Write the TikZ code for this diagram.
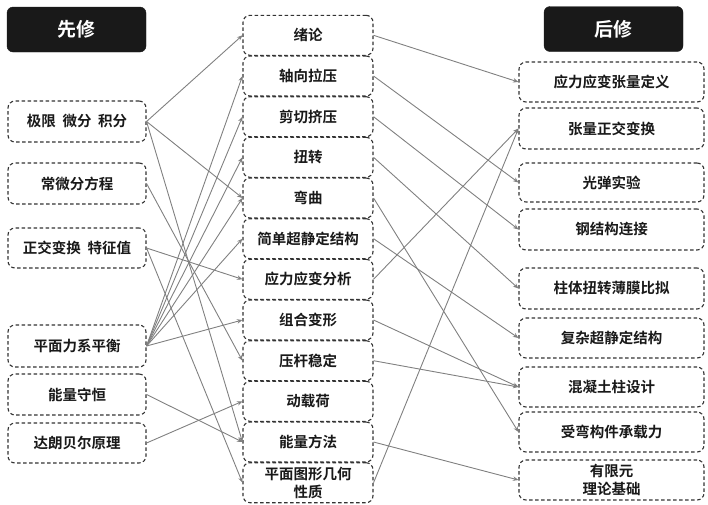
\documentclass[tikz,border=0pt]{standalone}
\usepackage{fontspec}
\setmainfont{Noto Sans CJK SC}[BoldFont={Noto Sans CJK SC Bold}]
\usetikzlibrary{arrows.meta}
\begin{document}
\begin{tikzpicture}[x=1pt,y=-1pt,
  cbox/.style={draw=black!80, line width=1.1pt, dash pattern=on 3.5pt off 2.5pt,
    rounded corners=7pt, inner sep=0pt, align=center,
    font=\fontsize{14.5}{18}\selectfont\bfseries, text=black!90},
  hbox/.style={fill=black!90, draw=black!90, rounded corners=6pt, inner sep=0pt,
    minimum width=139pt, minimum height=45pt, text=white,
    font=\fontsize{19}{22}\selectfont\bfseries},
  lbox/.style={cbox, minimum width=138pt},
  mbox/.style={cbox, minimum width=130pt, minimum height=40pt},
  rbox/.style={cbox, minimum width=185pt},
  link/.style={draw=black!50, line width=0.9pt, -{Stealth[length=5.5pt,width=4.5pt]}}]
\useasboundingbox (0,0) rectangle (708,504);
% headers
\node[hbox] (HL) at (76.5,29.5) {先修};
\node[hbox] (HR) at (613.5,29) {后修};
% left column
\node[lbox, minimum height=41pt] (L1) at (77,121.5) {极限~~微分~~积分};
\node[lbox, minimum height=41pt] (L2) at (77,183.5) {常微分方程};
\node[lbox, minimum height=40pt] (L3) at (77,248) {正交变换~~特征值};
\node[lbox, minimum height=42pt] (L4) at (77,346) {平面力系平衡};
\node[lbox, minimum height=41pt] (L5) at (77,394.5) {能量守恒};
\node[lbox, minimum height=40pt] (L6) at (77,443) {达朗贝尔原理};
% middle column
\node[mbox] (M1) at (308,35.3) {绪论};
\node[mbox] (M2) at (308,76) {轴向拉压};
\node[mbox] (M3) at (308,116.7) {剪切挤压};
\node[mbox] (M4) at (308,157.3) {扭转};
\node[mbox] (M5) at (308,198) {弯曲};
\node[mbox] (M6) at (308,238.7) {简单超静定结构};
\node[mbox] (M7) at (308,279.3) {应力应变分析};
\node[mbox] (M8) at (308,320) {组合变形};
\node[mbox] (M9) at (308,360.7) {压杆稳定};
\node[mbox] (M10) at (308,401.3) {动载荷};
\node[mbox] (M11) at (308,442) {能量方法};
\node[mbox] (M12) at (308,482.7) {平面图形几何\\性质};
% right column
\node[rbox, minimum height=40pt] (R1) at (611.5,82) {应力应变张量定义};
\node[rbox, minimum height=41pt] (R2) at (611.5,128.5) {张量正交变换};
\node[rbox, minimum height=39pt] (R3) at (611.5,182.5) {光弹实验};
\node[rbox, minimum height=41pt] (R4) at (611.5,229.5) {钢结构连接};
\node[rbox, minimum height=41pt] (R5) at (611.5,288.5) {柱体扭转薄膜比拟};
\node[rbox, minimum height=40pt] (R6) at (611.5,338) {复杂超静定结构};
\node[rbox, minimum height=40pt] (R7) at (611.5,387) {混凝土柱设计};
\node[rbox, minimum height=40pt] (R8) at (611.5,432) {受弯构件承载力};
\node[rbox, minimum height=40pt] (R9) at (611.5,480) {有限元\\理论基础};
% left -> middle
\draw[link] (L1.east) -- (M1.west);
\draw[link] (L1.east) -- (M5.west);
\draw[link] (L1.east) -- (M11.west);
\draw[link] (L2.east) -- (M9.west);
\draw[link] (L3.east) -- (M7.west);
\draw[link] (L3.east) -- (M12.west);
\draw[link] (L4.east) -- (M2.west);
\draw[link] (L4.east) -- (M3.west);
\draw[link] (L4.east) -- (M4.west);
\draw[link] (L4.east) -- (M5.west);
\draw[link] (L4.east) -- (M6.west);
\draw[link] (L4.east) -- (M8.west);
\draw[link] (L5.east) -- (M11.west);
\draw[link] (L6.east) -- (M10.west);
% middle -> right
\draw[link] (M1.east) -- (R1.west);
\draw[link] (M2.east) -- (R3.west);
\draw[link] (M3.east) -- (R4.west);
\draw[link] (M4.east) -- (R5.west);
\draw[link] (M5.east) -- (R8.west);
\draw[link] (M6.east) -- (R6.west);
\draw[link] (M7.east) -- (R2.west);
\draw[link] (M8.east) -- (R7.west);
\draw[link] (M9.east) -- (R7.west);
\draw[link] (M11.east) -- (R9.west);
\draw[link] (M12.east) -- (R2.west);
\end{tikzpicture}
\end{document}
